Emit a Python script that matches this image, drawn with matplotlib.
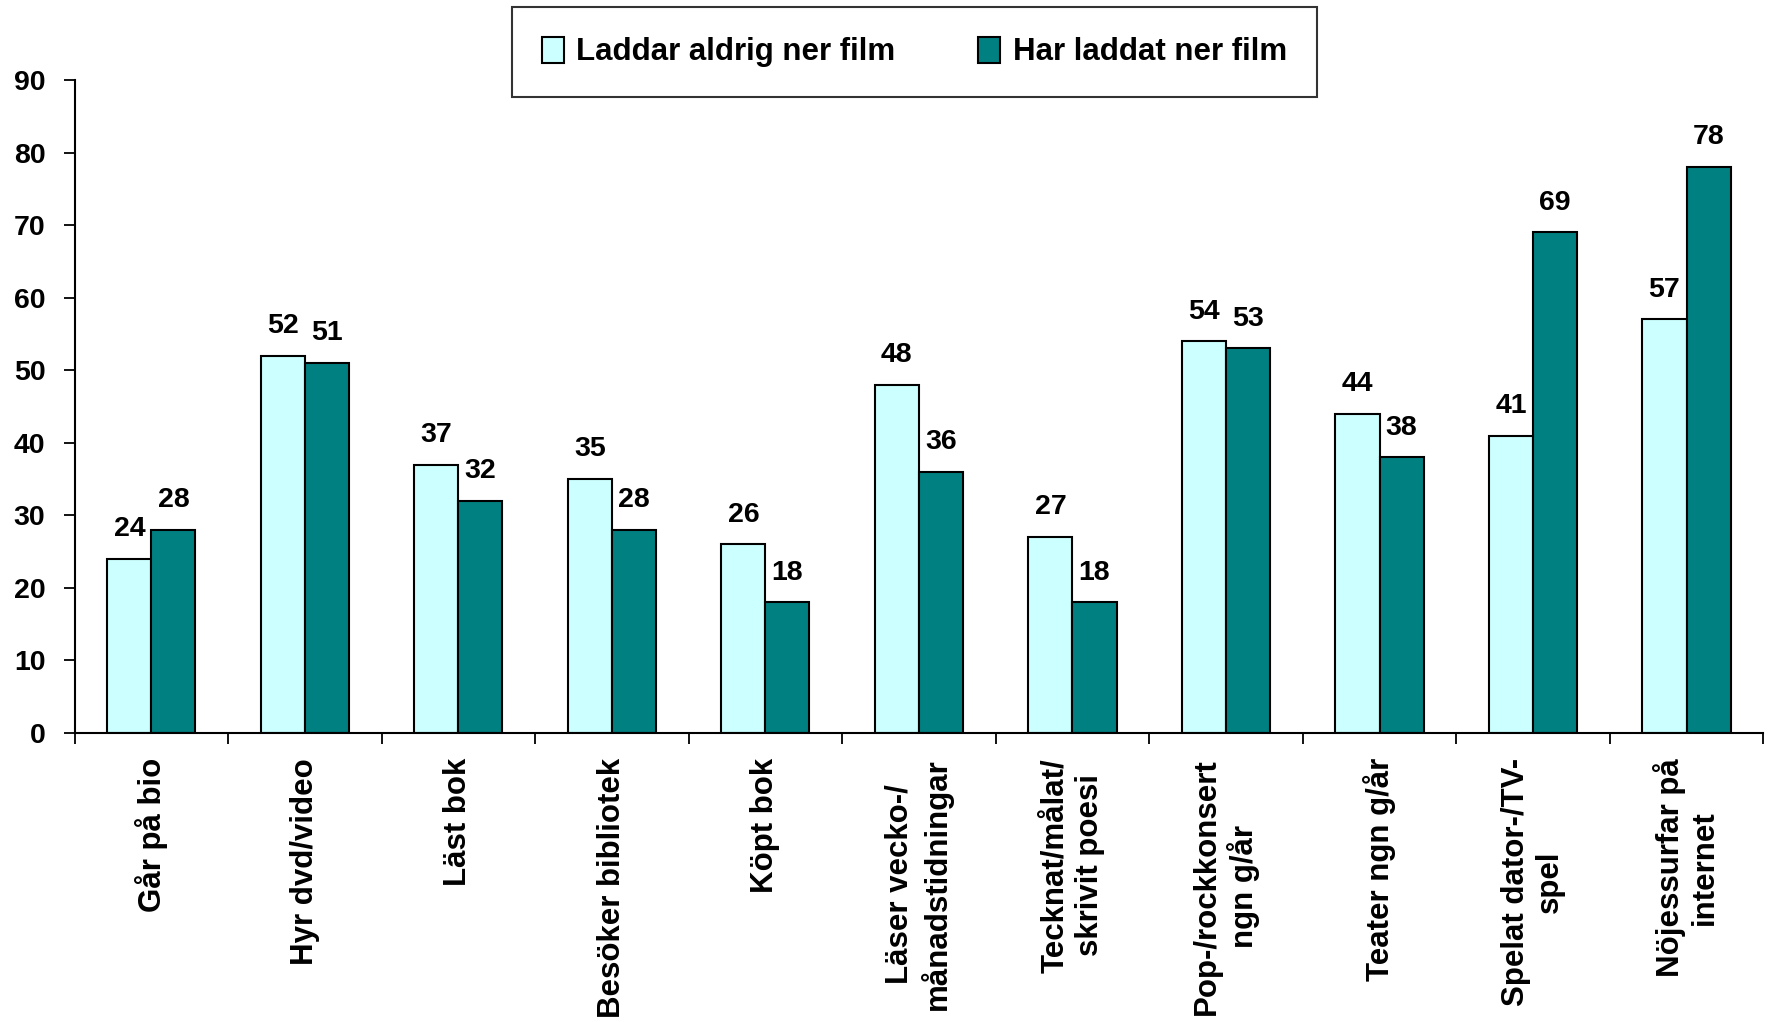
import numpy as np
import matplotlib.pyplot as plt

plt.rcParams['font.family'] = ['Liberation Sans', 'DejaVu Sans']
plt.rcParams['font.weight'] = 'bold'

categories = ['Går på bio', 'Hyr dvd/video', 'Läst bok', 'Besöker bibliotek', 'Köpt bok',
              'Läser vecko-/\nmånadstidningar', 'Tecknat/målat/\nskrivit poesi',
              'Pop-/rockkonsert\nngn g/år', 'Teater ngn g/år', 'Spelat dator-/TV-\nspel',
              'Nöjessurfar på\ninternet']
aldrig = [24, 52, 37, 35, 26, 48, 27, 54, 44, 41, 57]      # Laddar aldrig ner film
laddat = [28, 51, 32, 28, 18, 36, 18, 53, 38, 69, 78]      # Har laddat ner film
yticks = [0, 10, 20, 30, 40, 50, 60, 70, 80, 90]

fig = plt.figure(figsize=(17.72, 10.22), dpi=100)
ax = fig.add_axes([0.0421, 0.2828, 0.953, 0.6389])

x = np.arange(len(categories))
w = 0.287
b1 = ax.bar(x - w/2, aldrig, w, color='#CCFFFF', edgecolor='black', linewidth=1.5,
            label='Laddar aldrig ner film')
b2 = ax.bar(x + w/2, laddat, w, color='#008080', edgecolor='black', linewidth=1.5,
            label='Har laddat ner film')

for bars, vals in ((b1, aldrig), (b2, laddat)):
    for b, v in zip(bars, vals):
        ax.annotate(str(v), (b.get_x() + b.get_width()/2, v), xytext=(0, 12),
                    textcoords='offset points', ha='center', va='bottom',
                    fontsize=20.5, fontweight='bold')

ax.set_xlim(-0.5, len(categories) - 0.5)
ax.set_ylim(0, 90)
ax.set_yticks(yticks)
ax.tick_params(axis='y', labelsize=20.5, length=8, width=1.3, pad=13)

# ticks between the groups, labels at the group centres
ax.set_xticks(np.arange(len(categories) + 1) - 0.5)
ax.set_xticklabels([])
ax.tick_params(axis='x', which='major', length=8, width=1.3)
ax.set_xticks(x, minor=True)
ax.set_xticklabels(categories, minor=True, rotation=90, va='top', ha='center',
                   multialignment='center', fontsize=22.5, fontweight='bold')
ax.tick_params(axis='x', which='minor', length=0, pad=18)

for s in ('top', 'right'):
    ax.spines[s].set_visible(False)
for s in ('left', 'bottom'):
    ax.spines[s].set_linewidth(1.5)

leg = fig.legend(handles=[b1, b2], loc='center', ncol=2, mode='expand',
                 bbox_to_anchor=(0.289, 0.906, 0.454, 0.086), borderaxespad=0,
                 fancybox=False, edgecolor='black', fontsize=22.5,
                 handlelength=0.7, handleheight=0.9, handletextpad=0.4,
                 borderpad=0.95)
leg.get_frame().set_linewidth(1.5)
for t in leg.get_texts():
    t.set_fontweight('bold')

fig.savefig('out.png')
